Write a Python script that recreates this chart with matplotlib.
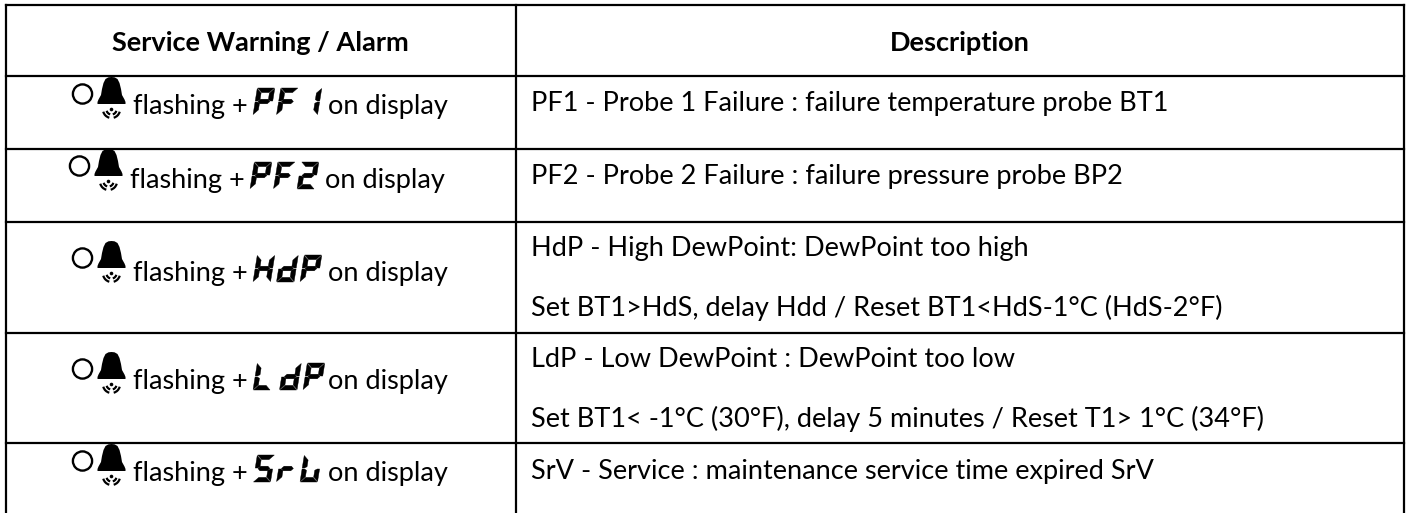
import matplotlib
matplotlib.use('Agg')
import matplotlib.pyplot as plt
from matplotlib.patches import Circle, Arc

plt.rcParams['font.family'] = ['Lato', 'DejaVu Sans']

headers = ['Service Warning / Alarm', 'Description']
codes = ['PF1', 'PF2', 'HdP', 'L dP', 'SrV']
left_before = 'flashing +'
left_after = 'on display'
descriptions = [
    ['PF1 - Probe 1 Failure : failure temperature probe BT1'],
    ['PF2 - Probe 2 Failure : failure pressure probe BP2'],
    ['HdP - High DewPoint: DewPoint too high',
     'Set BT1>HdS, delay Hdd / Reset BT1<HdS-1°C (HdS-2°F)'],
    ['LdP - Low DewPoint : DewPoint too low',
     'Set BT1< -1°C (30°F), delay 5 minutes / Reset T1> 1°C (34°F)'],
    ['SrV - Service : maintenance service time expired SrV'],
]

# pixel layout of the table
row_lines = [4.5, 75.5, 148.5, 221.5, 333, 442.5]
col_lines = [6, 516, 1403.5]
left_base = [114, 188, 281, 389, 481]
bell_top = [77, 149, 241, 352, 444]
left_shift = [0, -3, 0, 0, 0]
desc_base = [[111], [184], [256, 316], [367, 427], [479]]
fs = 19.5

# seven segment shapes
SEGS = {'P': 'abefg', 'F': 'aefg', '1': 'bc', '2': 'abged', 'H': 'bcefg',
        'd': 'bcdeg', 'L': 'def', 'S': 'afgcd', 'r': 'eg', 'V': 'fedc', ' ': ''}
H = 27.0
W = 17.5
T = 4.6
SHEAR = 0.16

fig = plt.figure(figsize=(14.08, 5.13), dpi=100)
ax = fig.add_axes([0, 0, 1, 1])
ax.set_xlim(0, 1408)
ax.set_ylim(513, 0)
ax.axis('off')


def seg_poly(x0, base, name):
    m = H / 2
    g = 0.5
    if name == 'a':
        p = [(g, H), (W - g, H), (W - T - g, H - T), (T + g, H - T)]
    elif name == 'd':
        p = [(g, 0), (W - g, 0), (W - T - g, T), (T + g, T)]
    elif name == 'g':
        p = [(T / 2 + g, m), (T + g, m + T / 2), (W - T - g, m + T / 2),
             (W - T / 2 - g, m), (W - T - g, m - T / 2), (T + g, m - T / 2)]
    elif name == 'f':
        p = [(0, H - g), (T, H - T - g), (T, m + T / 2 - g), (T / 2, m + g), (0, m + g)]
    elif name == 'e':
        p = [(0, g), (T, T + g), (T, m - T / 2 + g), (T / 2, m - g), (0, m - g)]
    elif name == 'b':
        p = [(W, H - g), (W - T, H - T - g), (W - T, m + T / 2 - g), (W - T / 2, m + g), (W, m + g)]
    else:
        p = [(W, g), (W - T, T + g), (W - T, m - T / 2 + g), (W - T / 2, m - g), (W, m - g)]
    return [x0 + x + SHEAR * y for x, y in p], [base - y for x, y in p]


def draw_code(code, x0, base):
    x = x0
    for ch in code:
        if ch == ' ':
            x += 3
            continue
        for s in SEGS[ch]:
            xs, ys = seg_poly(x, base, s)
            ax.fill(xs, ys, color='black', lw=0.3)
        x += W + 6


def draw_bell(cx, top):
    prof = [(0, 0), (3, 0.3), (6, 2), (8, 6), (9.5, 12), (10.5, 18), (13, 22.5), (14, 25), (14, 27)]
    xs = [cx + a for a, b in prof] + [cx - a for a, b in reversed(prof)]
    ys = [top + b for a, b in prof] + [top + b for a, b in reversed(prof)]
    ax.fill(xs, ys, color='black', lw=0)
    ax.add_patch(Circle((cx, top + 32.5), 1.8, color='black', lw=0))
    for r in [5, 8.5]:
        ax.add_patch(Arc((cx, top + 32.5), 2 * r, 2 * r, theta1=15, theta2=75, color='black', lw=1.6))
        ax.add_patch(Arc((cx, top + 32.5), 2 * r, 2 * r, theta1=105, theta2=165, color='black', lw=1.6))


# grid
for y in row_lines:
    ax.plot([col_lines[0], col_lines[-1]], [y, y], color='black', lw=1.6, solid_capstyle='projecting')
for x in col_lines:
    ax.plot([x, x], [row_lines[0], 513], color='black', lw=1.6, solid_capstyle='projecting')

# header
ax.text(260, 51, headers[0], ha='center', va='baseline', fontsize=fs, fontweight='bold')
ax.text(960, 51, headers[1], ha='center', va='baseline', fontsize=fs, fontweight='bold')

# rows
for i, code in enumerate(codes):
    b = left_base[i]
    dx = left_shift[i]
    ax.add_patch(Circle((82.5 + dx, bell_top[i] + 17), 9.6, fill=False, ec='black', lw=1.7))
    draw_bell(111.5 + dx, bell_top[i])
    ax.text(133 + dx, b, left_before, va='baseline', fontsize=fs)
    draw_code(code, 253 + dx, b + 1)
    ax.text(448 + dx, b, left_after, ha='right', va='baseline', fontsize=fs)
    for line, y in zip(descriptions[i], desc_base[i]):
        ax.text(531, y, line, va='baseline', fontsize=fs)

fig.savefig('out.png', dpi=100)
